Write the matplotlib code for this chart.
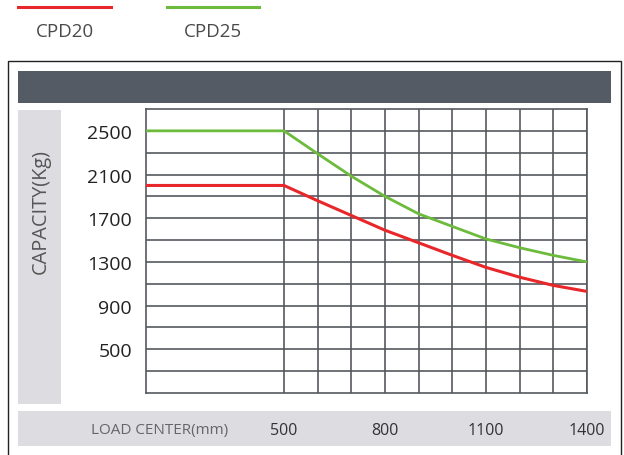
import matplotlib.pyplot as plt
from matplotlib.patches import Rectangle
from matplotlib.lines import Line2D

plt.rcParams['font.family'] = ['Open Sans', 'DejaVu Sans']

# data
load_center = [90, 500, 600, 700, 800, 900, 1000, 1100, 1200, 1300, 1400]
cpd20 = [2000, 2000, 1860, 1725, 1590, 1475, 1360, 1250, 1160, 1085, 1030]
cpd25 = [2500, 2500, 2290, 2085, 1900, 1740, 1625, 1510, 1430, 1360, 1300]
x_ticks = [500, 800, 1100, 1400]
y_ticks = [500, 900, 1300, 1700, 2100, 2500]

W, H = 624, 456
fig = plt.figure(figsize=(W / 100, H / 100), dpi=100)


def box(x0, y0, x1, y1):
    # pixel box (top-left origin) -> figure fraction rect
    return (x0 / W, 1 - y1 / H), (x1 - x0) / W, (y1 - y0) / H


def add_rect(x0, y0, x1, y1, **kw):
    xy, w, h = box(x0, y0, x1, y1)
    fig.add_artist(Rectangle(xy, w, h, transform=fig.transFigure, **kw))


# frame and background panels
add_rect(8, 62, 621, 470, facecolor='white', edgecolor='#222222', lw=1.0, zorder=0)
add_rect(18, 72, 611, 104, facecolor='#545b64', edgecolor='none', zorder=1)
add_rect(18, 111, 61, 405, facecolor='#dcdce1', edgecolor='none', zorder=1)
add_rect(18, 412, 611, 447, facecolor='#dcdce1', edgecolor='none', zorder=1)

# legend
for x0, x1, col, name in [(18, 111, '#e8272b', 'CPD20'), (167, 259, '#6cbb3c', 'CPD25')]:
    fig.add_artist(Line2D([x0 / W, x1 / W], [1 - 8 / H, 1 - 8 / H], color=col, lw=2.2,
                          transform=fig.transFigure))
    fig.text((x0 + x1) / 2 / W, 1 - 32 / H, name, ha='center', va='center',
             fontsize=13.5, color='#4a4a4a')

xy, w, h = box(146, 110, 587, 394)
ax = fig.add_axes([xy[0], xy[1], w, h])
ax.set_zorder(2)
ax.patch.set_facecolor('white')

ax.plot(load_center, cpd20, color='#e8272b', lw=2.2, zorder=3)
ax.plot(load_center, cpd25, color='#6cbb3c', lw=2.0, zorder=3)

ax.set_xlim(90, 1400)
ax.set_ylim(100, 2700)
ax.set_xticks(x_ticks)
ax.set_xticks([600, 700, 900, 1000, 1200, 1300], minor=True)
ax.set_yticks(y_ticks)
ax.set_yticks([300, 700, 1100, 1500, 1900, 2300], minor=True)
ax.grid(which='both', color='#55595e', lw=1.2)
ax.set_axisbelow(True)
ax.tick_params(which='both', length=0)
ax.tick_params(axis='y', pad=10, labelsize=14, labelcolor='#222222')
ax.tick_params(axis='x', pad=21, labelsize=11.5, labelcolor='#333333')
for s in ax.spines.values():
    s.set_color('#55595e')
    s.set_linewidth(1.2)

fig.text(41 / W, 1 - 212 / H, 'CAPACITY(Kg)', rotation=90, ha='center', va='center',
         fontsize=14.3, color='#555555')
fig.text(160 / W, 1 - 431 / H, 'LOAD CENTER(mm)', ha='center', va='center',
         fontsize=11, color='#666666')

fig.savefig('out.png', dpi=100)
